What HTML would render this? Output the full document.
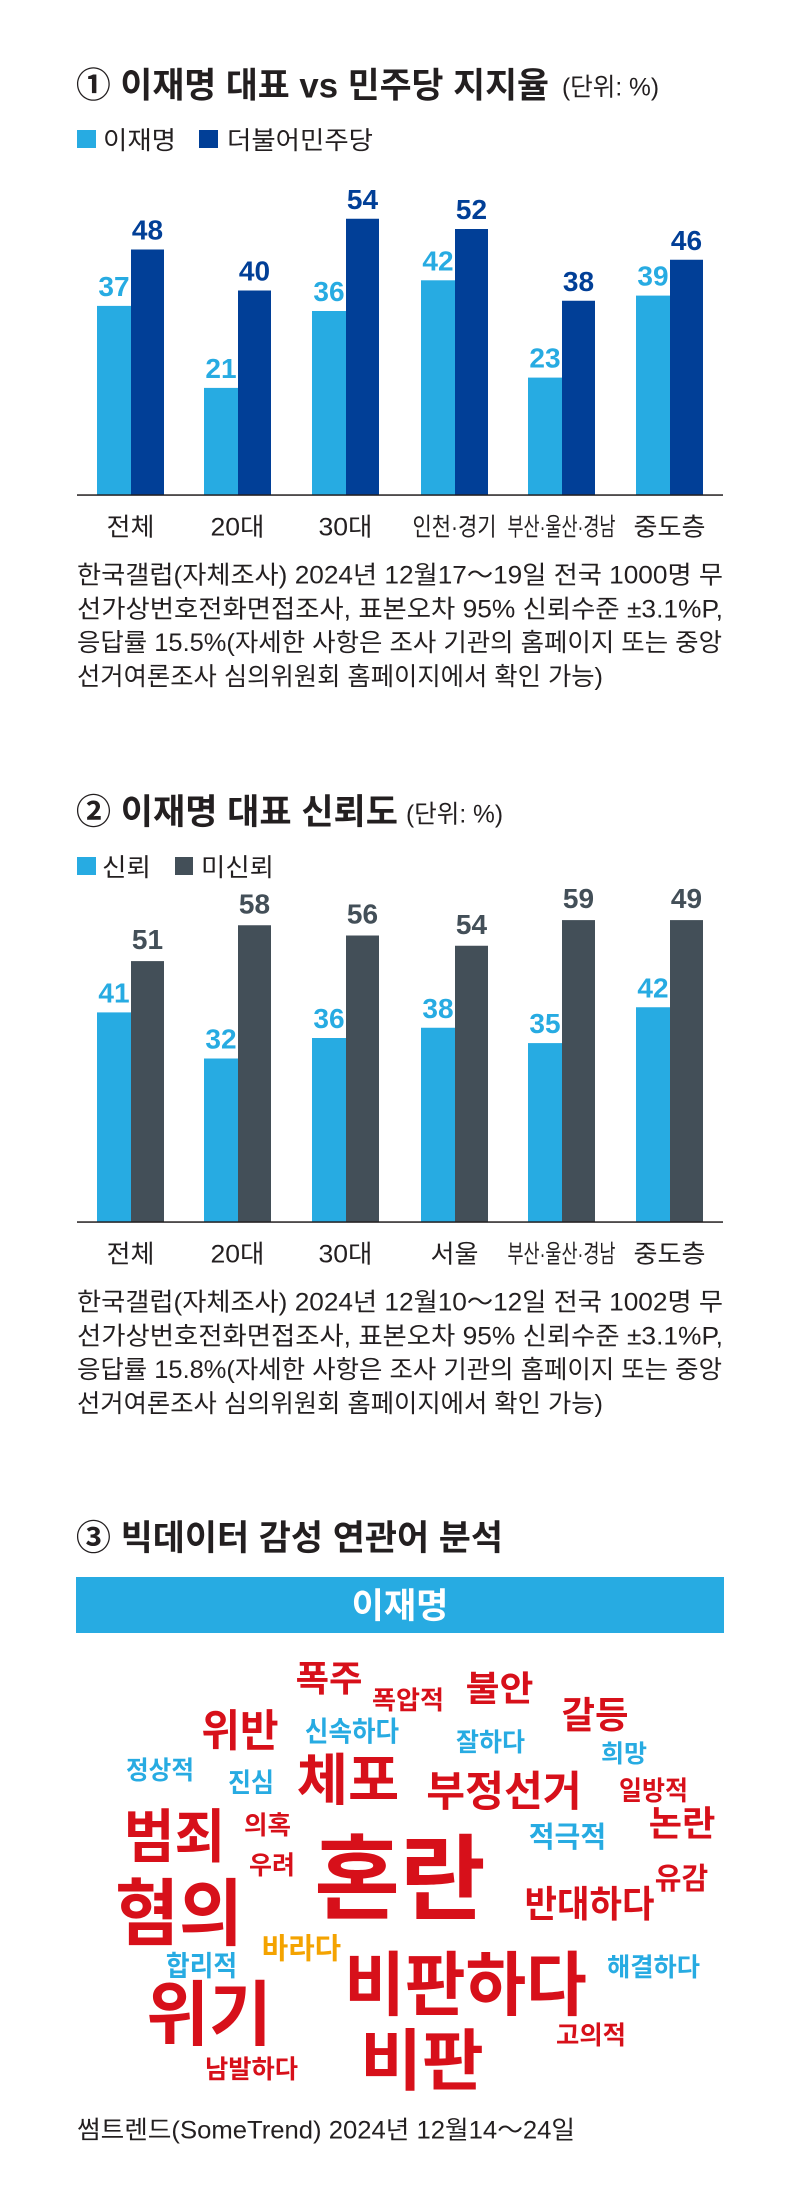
<!DOCTYPE html>
<html>
<head>
<meta charset="utf-8">
<style>
html,body{margin:0;padding:0;background:#ffffff;}
svg{display:block;}
text{font-family:"Liberation Sans","Noto Sans CJK KR",sans-serif;}
.t{font-weight:700;fill:#231f20;}
.u{font-weight:400;fill:#231f20;}
.n{font-weight:400;fill:#231f20;}
.v{font-family:"Liberation Sans","Noto Sans CJK KR",sans-serif;font-weight:700;font-size:28px;}
.w{font-weight:700;}
.r{fill:#d7101a;}
.b{fill:#27abe2;}
.o{fill:#f4a300;}
</style>
</head>
<body>
<svg width="800" height="2210" viewBox="0 0 800 2210" xmlns="http://www.w3.org/2000/svg">
<rect x="0" y="0" width="800" height="2210" fill="#ffffff"/>

<!-- ============ CHART 1 ============ -->
<text class="t" x="76" y="97.5" font-size="35" textLength="473" lengthAdjust="spacingAndGlyphs">① 이재명 대표 vs 민주당 지지율</text>
<text class="u" x="562" y="95.5" font-size="25" textLength="97" lengthAdjust="spacingAndGlyphs">(단위: %)</text>

<rect x="77" y="130" width="19" height="18" fill="#27abe2"/>
<text class="n" x="103" y="148.8" font-size="25" textLength="73" lengthAdjust="spacingAndGlyphs">이재명</text>
<rect x="199" y="130" width="19" height="18" fill="#013f97"/>
<text class="n" x="227" y="148.8" font-size="25" textLength="146" lengthAdjust="spacingAndGlyphs">더불어민주당</text>

<!-- bars chart 1 -->
<g fill="#27abe2">
<rect x="97" y="305.9" width="34" height="189.1"/>
<rect x="204" y="387.9" width="34" height="107.1"/>
<rect x="312" y="311.0" width="34" height="184"/>
<rect x="421" y="280.3" width="34" height="214.7"/>
<rect x="528" y="377.6" width="34" height="117.4"/>
<rect x="636" y="295.6" width="34" height="199.4"/>
</g>
<g fill="#013f97">
<rect x="131" y="249.5" width="33" height="245.5"/>
<rect x="238" y="290.5" width="33" height="204.5"/>
<rect x="346" y="218.75" width="33" height="276.25"/>
<rect x="455" y="229" width="33" height="266"/>
<rect x="562" y="300.75" width="33" height="194.25"/>
<rect x="670" y="259.75" width="33" height="235.25"/>
</g>
<g class="v" fill="#27abe2" text-anchor="middle">
<text x="114" y="295.9">37</text>
<text x="221" y="377.9">21</text>
<text x="329" y="301">36</text>
<text x="438" y="270.3">42</text>
<text x="545" y="367.6">23</text>
<text x="653" y="285.6">39</text>
</g>
<g class="v" fill="#013f97" text-anchor="middle">
<text x="147.5" y="239.5">48</text>
<text x="254.5" y="280.5">40</text>
<text x="362.5" y="208.75">54</text>
<text x="471.5" y="219">52</text>
<text x="578.5" y="290.75">38</text>
<text x="686.5" y="249.75">46</text>
</g>
<rect x="77" y="494.3" width="646" height="1.5" fill="#231f20"/>

<g class="n" font-size="25" text-anchor="middle">
<text x="130.5" y="535.5" textLength="48" lengthAdjust="spacingAndGlyphs">전체</text>
<text x="237.5" y="535.5" textLength="54" lengthAdjust="spacingAndGlyphs">20대</text>
<text x="345.5" y="535.5" textLength="54" lengthAdjust="spacingAndGlyphs">30대</text>
<text x="454.5" y="535.5" textLength="84" lengthAdjust="spacingAndGlyphs">인천·경기</text>
<text x="561.5" y="535.5" textLength="108" lengthAdjust="spacingAndGlyphs">부산·울산·경남</text>
<text x="669.5" y="535.5" textLength="72" lengthAdjust="spacingAndGlyphs">중도층</text>
</g>

<g class="n" font-size="25">
<text x="77" y="583.7" textLength="646" lengthAdjust="spacingAndGlyphs">한국갤럽(자체조사) 2024년 12월17～19일 전국 1000명 무</text>
<text x="77" y="617.4" textLength="646" lengthAdjust="spacingAndGlyphs">선가상번호전화면접조사, 표본오차 95% 신뢰수준 ±3.1%P,</text>
<text x="77" y="651.1" textLength="645" lengthAdjust="spacingAndGlyphs">응답률 15.5%(자세한 사항은 조사 기관의 홈페이지 또는 중앙</text>
<text x="77" y="684.8" textLength="526" lengthAdjust="spacingAndGlyphs">선거여론조사 심의위원회 홈페이지에서 확인 가능)</text>
</g>

<!-- ============ CHART 2 ============ -->
<text class="t" x="76" y="824" font-size="35" textLength="322" lengthAdjust="spacingAndGlyphs">② 이재명 대표 신뢰도</text>
<text class="u" x="406" y="822.5" font-size="25" textLength="97" lengthAdjust="spacingAndGlyphs">(단위: %)</text>

<rect x="77" y="857" width="19" height="18" fill="#27abe2"/>
<text class="n" x="102" y="875.8" font-size="25" textLength="49" lengthAdjust="spacingAndGlyphs">신뢰</text>
<rect x="175" y="857" width="18" height="18" fill="#434f58"/>
<text class="n" x="201" y="875.8" font-size="25" textLength="73" lengthAdjust="spacingAndGlyphs">미신뢰</text>

<g fill="#27abe2">
<rect x="97" y="1012.4" width="34" height="209.6"/>
<rect x="204" y="1058.5" width="34" height="163.5"/>
<rect x="312" y="1038" width="34" height="184"/>
<rect x="421" y="1027.75" width="34" height="194.25"/>
<rect x="528" y="1043.1" width="34" height="178.9"/>
<rect x="636" y="1007.25" width="34" height="214.75"/>
</g>
<g fill="#434f58">
<rect x="131" y="961.1" width="33" height="260.9"/>
<rect x="238" y="925.25" width="33" height="296.75"/>
<rect x="346" y="935.5" width="33" height="286.5"/>
<rect x="455" y="945.75" width="33" height="276.25"/>
<rect x="562" y="920.1" width="33" height="301.9"/>
<rect x="670" y="920.1" width="33" height="301.9"/>
</g>
<g class="v" fill="#27abe2" text-anchor="middle">
<text x="114" y="1002.4">41</text>
<text x="221" y="1048.5">32</text>
<text x="329" y="1028">36</text>
<text x="438" y="1017.75">38</text>
<text x="545" y="1033.1">35</text>
<text x="653" y="997.25">42</text>
</g>
<g class="v" fill="#434f58" text-anchor="middle">
<text x="147.5" y="949.1">51</text>
<text x="254.5" y="913.25">58</text>
<text x="362.5" y="923.5">56</text>
<text x="471.5" y="933.75">54</text>
<text x="578.5" y="908.1">59</text>
<text x="686.5" y="908.1">49</text>
</g>
<rect x="77" y="1221.3" width="646" height="1.5" fill="#231f20"/>

<g class="n" font-size="25" text-anchor="middle">
<text x="130.5" y="1262.5" textLength="48" lengthAdjust="spacingAndGlyphs">전체</text>
<text x="237.5" y="1262.5" textLength="54" lengthAdjust="spacingAndGlyphs">20대</text>
<text x="345.5" y="1262.5" textLength="54" lengthAdjust="spacingAndGlyphs">30대</text>
<text x="454.5" y="1262.5" textLength="48" lengthAdjust="spacingAndGlyphs">서울</text>
<text x="561.5" y="1262.5" textLength="108" lengthAdjust="spacingAndGlyphs">부산·울산·경남</text>
<text x="669.5" y="1262.5" textLength="72" lengthAdjust="spacingAndGlyphs">중도층</text>
</g>

<g class="n" font-size="25">
<text x="77" y="1310.7" textLength="646" lengthAdjust="spacingAndGlyphs">한국갤럽(자체조사) 2024년 12월10～12일 전국 1002명 무</text>
<text x="77" y="1344.4" textLength="646" lengthAdjust="spacingAndGlyphs">선가상번호전화면접조사, 표본오차 95% 신뢰수준 ±3.1%P,</text>
<text x="77" y="1378.1" textLength="645" lengthAdjust="spacingAndGlyphs">응답률 15.8%(자세한 사항은 조사 기관의 홈페이지 또는 중앙</text>
<text x="77" y="1411.8" textLength="526" lengthAdjust="spacingAndGlyphs">선거여론조사 심의위원회 홈페이지에서 확인 가능)</text>
</g>

<!-- ============ SECTION 3 ============ -->
<text class="t" x="76" y="1550" font-size="35" textLength="427" lengthAdjust="spacingAndGlyphs">③ 빅데이터 감성 연관어 분석</text>

<rect x="76" y="1577" width="648" height="56" fill="#27abe2"/>
<text class="w" x="351.6" y="1618" font-size="35" fill="#ffffff" textLength="96.8" lengthAdjust="spacingAndGlyphs">이재명</text>

<g class="w">
<text class="r" x="295.6" y="1691" font-size="36" textLength="66.9" lengthAdjust="spacingAndGlyphs">폭주</text>
<text class="r" x="372" y="1709" font-size="25.6" textLength="72" lengthAdjust="spacingAndGlyphs">폭압적</text>
<text class="r" x="201.2" y="1746" font-size="44" textLength="77.5" lengthAdjust="spacingAndGlyphs">위반</text>
<text class="b" x="304.9" y="1741" font-size="28" textLength="94.2" lengthAdjust="spacingAndGlyphs">신속하다</text>
<text class="b" x="126" y="1779" font-size="25.6" textLength="68" lengthAdjust="spacingAndGlyphs">정상적</text>
<text class="b" x="228" y="1792" font-size="26.7" textLength="46.1" lengthAdjust="spacingAndGlyphs">진심</text>
<text class="r" x="296.8" y="1800" font-size="56" textLength="102.5" lengthAdjust="spacingAndGlyphs">체포</text>
<text class="r" x="123.7" y="1857" font-size="58" textLength="101.6" lengthAdjust="spacingAndGlyphs">범죄</text>
<text class="r" x="244" y="1834" font-size="25.6" textLength="47" lengthAdjust="spacingAndGlyphs">의혹</text>
<text class="r" x="249" y="1874" font-size="25.6" textLength="46" lengthAdjust="spacingAndGlyphs">우려</text>
<text class="r" x="314.3" y="1912" font-size="93" textLength="171.4" lengthAdjust="spacingAndGlyphs">혼란</text>
<text class="r" x="465.6" y="1701" font-size="35" textLength="67.8" lengthAdjust="spacingAndGlyphs">불안</text>
<text class="r" x="561.5" y="1728" font-size="37" textLength="67" lengthAdjust="spacingAndGlyphs">갈등</text>
<text class="b" x="456" y="1751" font-size="25.6" textLength="69" lengthAdjust="spacingAndGlyphs">잘하다</text>
<text class="b" x="601" y="1762" font-size="24.4" textLength="46" lengthAdjust="spacingAndGlyphs">희망</text>
<text class="r" x="426.3" y="1806" font-size="42" textLength="155.4" lengthAdjust="spacingAndGlyphs">부정선거</text>
<text class="r" x="619" y="1800" font-size="26.7" textLength="69" lengthAdjust="spacingAndGlyphs">일방적</text>
<text class="r" x="648.6" y="1836" font-size="35" textLength="66.8" lengthAdjust="spacingAndGlyphs">논란</text>
<text class="b" x="528.8" y="1847" font-size="29" textLength="77.3" lengthAdjust="spacingAndGlyphs">적극적</text>
<text class="r" x="654.8" y="1889" font-size="30" textLength="53.4" lengthAdjust="spacingAndGlyphs">유감</text>
<text class="r" x="524.5" y="1917" font-size="37" textLength="130" lengthAdjust="spacingAndGlyphs">반대하다</text>
<text class="r" x="115.1" y="1939" font-size="73" textLength="127.8" lengthAdjust="spacingAndGlyphs">혐의</text>
<text class="o" x="261.8" y="1958.5" font-size="29" textLength="79.3" lengthAdjust="spacingAndGlyphs">바라다</text>
<text class="b" x="165.9" y="1975.6" font-size="28" textLength="71.2" lengthAdjust="spacingAndGlyphs">합리적</text>
<text class="r" x="146.2" y="2039.5" font-size="71" textLength="125.7" lengthAdjust="spacingAndGlyphs">위기</text>
<text class="r" x="344.2" y="2009.5" font-size="70" textLength="242.6" lengthAdjust="spacingAndGlyphs">비판하다</text>
<text class="r" x="360.3" y="2084.6" font-size="67" textLength="123.4" lengthAdjust="spacingAndGlyphs">비판</text>
<text class="r" x="205" y="2078" font-size="25.6" textLength="93" lengthAdjust="spacingAndGlyphs">남발하다</text>
<text class="b" x="607" y="1976" font-size="25.6" textLength="93" lengthAdjust="spacingAndGlyphs">해결하다</text>
<text class="r" x="556" y="2044" font-size="25.6" textLength="70" lengthAdjust="spacingAndGlyphs">고의적</text>
</g>

<text class="n" x="77" y="2138.5" font-size="25" textLength="498" lengthAdjust="spacingAndGlyphs">썸트렌드(SomeTrend) 2024년 12월14～24일</text>
</svg>
</body>
</html>
